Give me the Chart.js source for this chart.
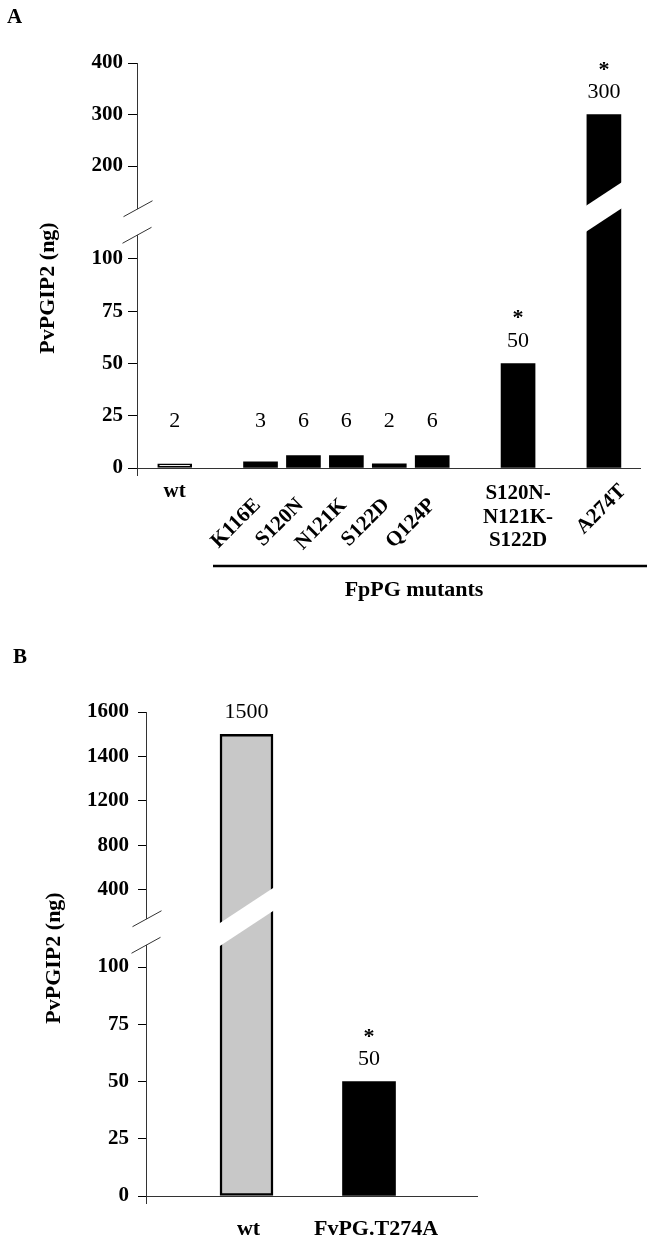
<!DOCTYPE html>
<html><head><meta charset="utf-8">
<script src="https://cdn.jsdelivr.net/npm/chart.js@4.4.1/dist/chart.umd.min.js"></script>
<style>
html,body{margin:0;padding:0;background:#fff;width:653px;height:1241px;overflow:hidden}
#wrap{position:relative;width:653px;height:1241px;background:#fff}
canvas{position:absolute;left:0}
#cA{top:0}
#cB{top:630px}
</style></head><body>
<div id="wrap"><canvas id="cA" width="653" height="630"></canvas><canvas id="cB" width="653" height="611"></canvas></div>
<script>
// ---------------- DATA ----------------
const categoriesA = ['wt','K116E','S120N','N121K','S122D','Q124P','S120N-N121K-S122D','A274T'];
const groupsA = [0,1,1,1,1,1,2,3];            // wt | single mutants | triple mutant | A274T
const valuesA = [2,3,6,6,2,6,50,300];
const significantA = [false,false,false,false,false,false,true,true];
const ticksA_low = [0,25,50,75,100];
const ticksA_high = [200,300,400];
const groupTitleA = 'FpPG mutants';

const categoriesB = ['wt','FvPG.T274A'];
const groupsB = [0,0];
const valuesB = [1500,50];
const significantB = [false,true];
const ticksB_low = [0,25,50,75,100];
const ticksB_high = [400,800,1200,1400,1600];

const yTitle = 'PvPGIP2 (ng)';

// ---------------- STYLE / LAYOUT ----------------
const FAM = '"Liberation Serif", "Times New Roman", serif';
const AXIS = '#333';
const fillA = ['#ffffff','#000','#000','#000','#000','#000','#000','#000'];
const borderA = [2,0,0,0,0,0,0,0];
const fillB = ['#c8c8c8','#000'];
const borderB = [2.5,0];
const labelStyleA = ['flat','rot','rot','rot','rot','rot','stack','rot'];
const labelNudgeA = [0,0,0,0,0,3,0,22];
const labelNudgeB = [2,7];

function line(ctx,x1,y1,x2,y2,color,w){ctx.strokeStyle=color;ctx.lineWidth=w;ctx.beginPath();ctx.moveTo(x1,y1);ctx.lineTo(x2,y2);ctx.stroke();}
function text(ctx,s,x,y,font,align,base,rot){ctx.save();ctx.translate(x,y);if(rot)ctx.rotate(rot);ctx.font=font;ctx.textAlign=align||'center';ctx.textBaseline=base||'middle';ctx.fillStyle='#000';ctx.fillText(s,0,0);ctx.restore();}

function axisBreak(ctx, ax, b){
  const s=-0.55, g=13;
  const yu=x=>b-g+s*(x-ax), yd=x=>b+g+s*(x-ax);
  ctx.fillStyle='#fff';ctx.beginPath();
  ctx.moveTo(ax-4,yu(ax-4));ctx.lineTo(ax+4,yu(ax+4));ctx.lineTo(ax+4,yd(ax+4));ctx.lineTo(ax-4,yd(ax-4));ctx.closePath();ctx.fill();
  ctx.strokeStyle=AXIS;ctx.lineWidth=1;ctx.beginPath();
  ctx.moveTo(ax-14,yu(ax-14));ctx.lineTo(ax+15,yu(ax+15));
  ctx.moveTo(ax-15,yd(ax-15));ctx.lineTo(ax+14,yd(ax+14));ctx.stroke();
}
function barBreak(ctx, xc, w, c, h){
  const s=-0.66, L=xc-w/2-2, R=xc+w/2+2;
  ctx.fillStyle='#fff';ctx.beginPath();
  ctx.moveTo(L,c-h+s*(L-xc));ctx.lineTo(R,c-h+s*(R-xc));ctx.lineTo(R,c+h+s*(R-xc));ctx.lineTo(L,c+h+s*(L-xc));ctx.closePath();ctx.fill();
}

function buildPanel(P){
  const slots = P.groups.map((g,i)=>i+g);
  const pts = P.values.map((v,i)=>({x:slots[i],y:v}));
  const hi = P.values.map((v,i)=>i).filter(i=>P.values[i]>P.lowMax);
  const n = P.ticksHigh.length, step = P.ticksHigh[n-1]-P.ticksHigh[n-2];
  const highTickVals = P.ticksHigh.map((t,i)=>P.ticksHigh[n-1]-(n-1-i)*step);
  const tickFont = {family:FAM,size:21,weight:'bold'};
  const yCommon = {type:'linear',position:'left',stack:'v',
    grid:{display:true,drawOnChartArea:false,drawTicks:true,tickLength:P.tickLen,color:'#000',lineWidth:1},
    border:{display:true,color:AXIS,width:1},
    afterFit(s){s.width=P.yWidth;}};
  const clipPlugin = {
    id:'clipStack',
    beforeDatasetDraw(chart,args){
      const ys=chart.scales[args.meta.yAxisID], ca=chart.chartArea, ctx=chart.ctx;
      const top=Math.round(ys.top), bot=Math.round(ys.bottom)+(ys.bottom>=ca.bottom-1?3:0);
      ctx.save();ctx.beginPath();ctx.rect(ca.left-5,top,ca.width+10,bot-top);ctx.clip();
    },
    afterDatasetDraw(chart){chart.ctx.restore();},
    afterDraw(chart){
      const ctx=chart.ctx, ca=chart.chartArea, xs=chart.scales.x, yl=chart.scales.yLow, yh=chart.scales.yHigh;
      const brk=Math.round(yl.top);
      ctx.save();
      line(ctx,ca.left+0.5,ca.bottom,ca.left+0.5,ca.bottom+8,AXIS,1);
      axisBreak(ctx,ca.left+0.5,brk);
      chart.getDatasetMeta(1).data.forEach(el=>barBreak(ctx,el.x,el.width,brk-15,P.bandH));
      P.values.forEach((v,i)=>{
        const xc=xs.getPixelForValue(slots[i]);
        const top = v>P.lowMax ? yh.getPixelForValue(v) : yl.getPixelForValue(Math.max(v,P.minLabelVal));
        const ly=top-22;
        text(ctx,String(v),xc,ly,'22px '+FAM,'center','middle');
        if(P.sig[i]) text(ctx,'*',xc,ly-27+10,'bold 22px '+FAM,'center','alphabetic');
      });
      P.decorate(ctx,chart,slots);
      ctx.restore();
    }
  };
  return new Chart(document.getElementById(P.canvas),{
    type:'bar',
    data:{datasets:[
      {data:pts,yAxisID:'yLow',xAxisID:'x',backgroundColor:P.fill,borderColor:'#000',borderWidth:P.border,borderSkipped:false,grouped:false,barThickness:P.barW},
      {data:hi.map(i=>pts[i]),yAxisID:'yHigh',xAxisID:'x',backgroundColor:hi.map(i=>P.fill[i]),borderColor:'#000',borderWidth:hi.map(i=>P.border[i]),borderSkipped:'start',grouped:false,barThickness:P.barW}
    ]},
    options:{
      responsive:false,animation:false,devicePixelRatio:1,
      layout:{padding:P.padding},
      plugins:{legend:{display:false},tooltip:{enabled:false}},
      scales:{
        x:{type:'linear',offset:false,min:P.xMin,max:P.xMax,ticks:{display:false},grid:{display:false,offset:false},border:{display:true,color:AXIS,width:1},afterFit(s){s.height=0;}},
        yLow:Object.assign({},yCommon,{weight:1,stackWeight:P.wLow,min:0,max:P.lowMax,
          afterBuildTicks(s){s.ticks=P.ticksLow.map(v=>({value:v}));},
          ticks:{font:tickFont,color:'#000',padding:P.tickPad,autoSkip:false,callback:(v,i)=>String(P.ticksLow[i])}}),
        yHigh:Object.assign({},yCommon,{weight:2,stackWeight:P.wHigh,min:P.highMin,max:P.highMax,
          afterBuildTicks(s){s.ticks=highTickVals.map(v=>({value:v}));},
          ticks:{font:tickFont,color:'#000',padding:P.tickPad,autoSkip:false,callback:(v,i)=>String(P.ticksHigh[i])}})
      }
    },
    plugins:[clipPlugin]
  });
}

buildPanel({
  canvas:'cA', groups:groupsA, values:valuesA, sig:significantA, ticksLow:ticksA_low, ticksHigh:ticksA_high,
  fill:fillA, border:borderA, padding:{left:57,right:13,top:63,bottom:162}, yWidth:80,
  xMin:-0.878, xMax:10.841, lowMax:117.7, highMin:91.3, highMax:400, wLow:246, wHigh:159,
  tickLen:9, tickPad:5, barW:34, bandH:13, minLabelVal:12,
  decorate(ctx,chart,slots){
    const xs=chart.scales.x, ca=chart.chartArea;
    categoriesA.forEach((c,i)=>{
      const xc=xs.getPixelForValue(slots[i])+labelNudgeA[i];
      const st=labelStyleA[i];
      if(st==='flat') text(ctx,c,xc,ca.bottom+29,'bold 21px '+FAM,'center','alphabetic');
      else if(st==='rot') text(ctx,c,xc-3,ca.bottom+34-(i===7?14:0),'bold 21px '+FAM,'right','middle',-Math.PI/4);
      else c.split(/(?<=-)/).forEach((part,k)=>text(ctx,part,xc,ca.bottom+26+k*23.5,'bold 21px '+FAM,'center','middle'));
    });
    line(ctx,213,ca.bottom+98,647,ca.bottom+98,'#000',2.5);
    text(ctx,groupTitleA,414,ca.bottom+122,'bold 22px '+FAM,'center','middle');
    text(ctx,'A',7,23,'bold 21px '+FAM,'left','alphabetic');
    text(ctx,yTitle,48,288,'bold 22px '+FAM,'center','middle',-Math.PI/2);
  }
});

buildPanel({
  canvas:'cB', groups:groupsB, values:valuesB, sig:significantB, ticksLow:ticksB_low, ticksHigh:ticksB_high,
  fill:fillB, border:borderB, padding:{left:66,right:176,top:82,bottom:45}, yWidth:80,
  xMin:-0.8204, xMax:1.8816, lowMax:115.3, highMin:611.2, highMax:1600, wLow:264, wHigh:220,
  tickLen:8, tickPad:9, barW:53, bandH:11.5, minLabelVal:12,
  decorate(ctx,chart,slots){
    const xs=chart.scales.x, ca=chart.chartArea;
    categoriesB.forEach((c,i)=>{
      const xc=xs.getPixelForValue(slots[i])+labelNudgeB[i];
      text(ctx,c,xc,ca.bottom+39,'bold 22px '+FAM,'center','alphabetic');
    });
    text(ctx,'B',13,33,'bold 21px '+FAM,'left','alphabetic');
    text(ctx,yTitle,54,328,'bold 22px '+FAM,'center','middle',-Math.PI/2);
  }
});
</script>
</body></html>
